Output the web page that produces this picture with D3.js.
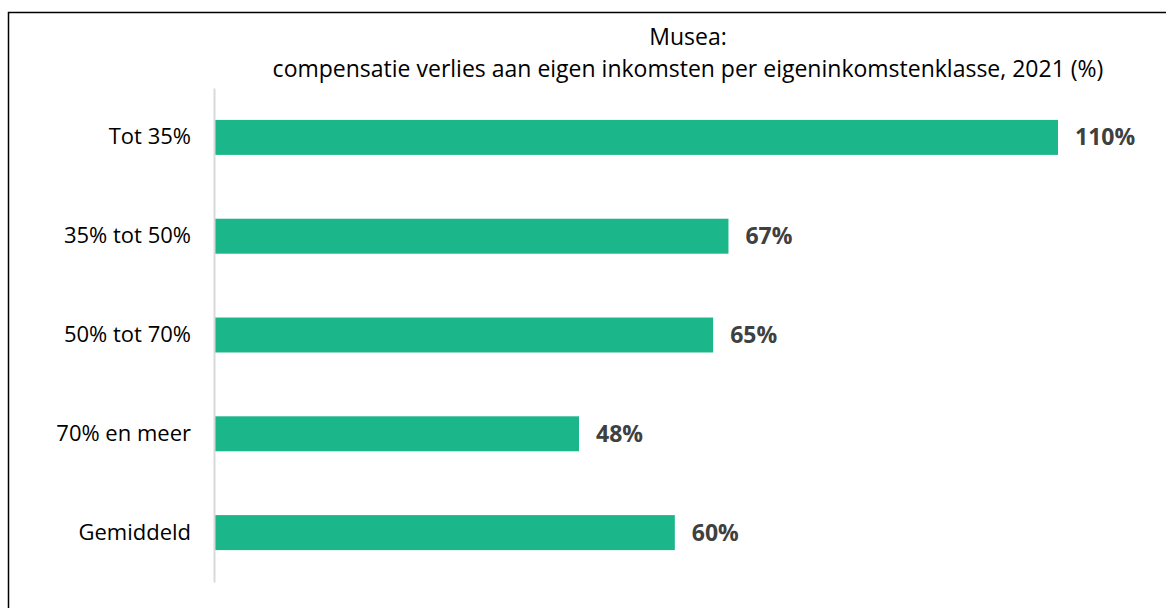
<!DOCTYPE html>
<html>
<head>
<meta charset="utf-8">
<script src="https://cdn.jsdelivr.net/npm/d3@7"></script>
<style>
  body { margin: 0; background: #fff; }
  text { font-family: "Open Sans", sans-serif; }
</style>
</head>
<body>
<div id="chart"></div>
<script>
// Data
const categories = ["Tot 35%", "35% tot 50%", "50% tot 70%", "70% en meer", "Gemiddeld"];
const values = [110, 67, 65, 47.5, 60];
const titleLines = ["Musea:", "compensatie verlies aan eigen inkomsten per eigeninkomstenklasse, 2021 (%)"];

const data = categories.map((c, i) => ({cat: c, val: values[i]}));

const W = 1166, H = 608;
const svg = d3.select("#chart").append("svg")
    .attr("width", W)
    .attr("height", H);

// Frame (left and top edges visible)
svg.append("path")
    .attr("d", `M8.5,${H} V12.5 H${W}`)
    .attr("fill", "none")
    .attr("stroke", "#000")
    .attr("stroke-width", 1.5);

const x = d3.scaleLinear()
    .domain([0, 110])
    .range([215, 1058]);

const y = d3.scaleBand()
    .domain(categories)
    .range([88, 582])
    .paddingInner(0.646)
    .paddingOuter(0.323);

// Title
svg.selectAll(".title")
    .data(titleLines)
    .enter()
    .append("text")
    .attr("x", 688)
    .attr("y", (d, i) => 45 + i * 32)
    .attr("text-anchor", "middle")
    .style("font-size", "23px")
    .attr("fill", "#000")
    .text(d => d);

// Bars
svg.selectAll(".bar")
    .data(data)
    .enter()
    .append("rect")
    .attr("class", "bar")
    .attr("x", x(0))
    .attr("y", d => y(d.cat))
    .attr("width", d => x(d.val) - x(0))
    .attr("height", y.bandwidth())
    .attr("fill", "#1cb68b");

// Y axis (line only, labels on the left)
const yAxis = svg.append("g")
    .attr("transform", `translate(${x(0) - 1}, 0)`)
    .call(d3.axisLeft(y).tickSize(0).tickPadding(23));
yAxis.select(".domain").attr("stroke", "#d9d9d9").attr("stroke-width", 2);
yAxis.selectAll("text")
    .style("font-size", "22px")
    .style("font-family", "'Open Sans', sans-serif")
    .attr("fill", "#000");

// Value labels
svg.selectAll(".label")
    .data(data)
    .enter()
    .append("text")
    .attr("x", d => x(d.val) + 17)
    .attr("y", d => y(d.cat) + y.bandwidth() / 2)
    .attr("dy", "0.35em")
    .style("font-size", "23px")
    .style("font-weight", "bold")
    .attr("fill", "#404040")
    .text(d => Math.round(d.val) + "%");
</script>
</body>
</html>
